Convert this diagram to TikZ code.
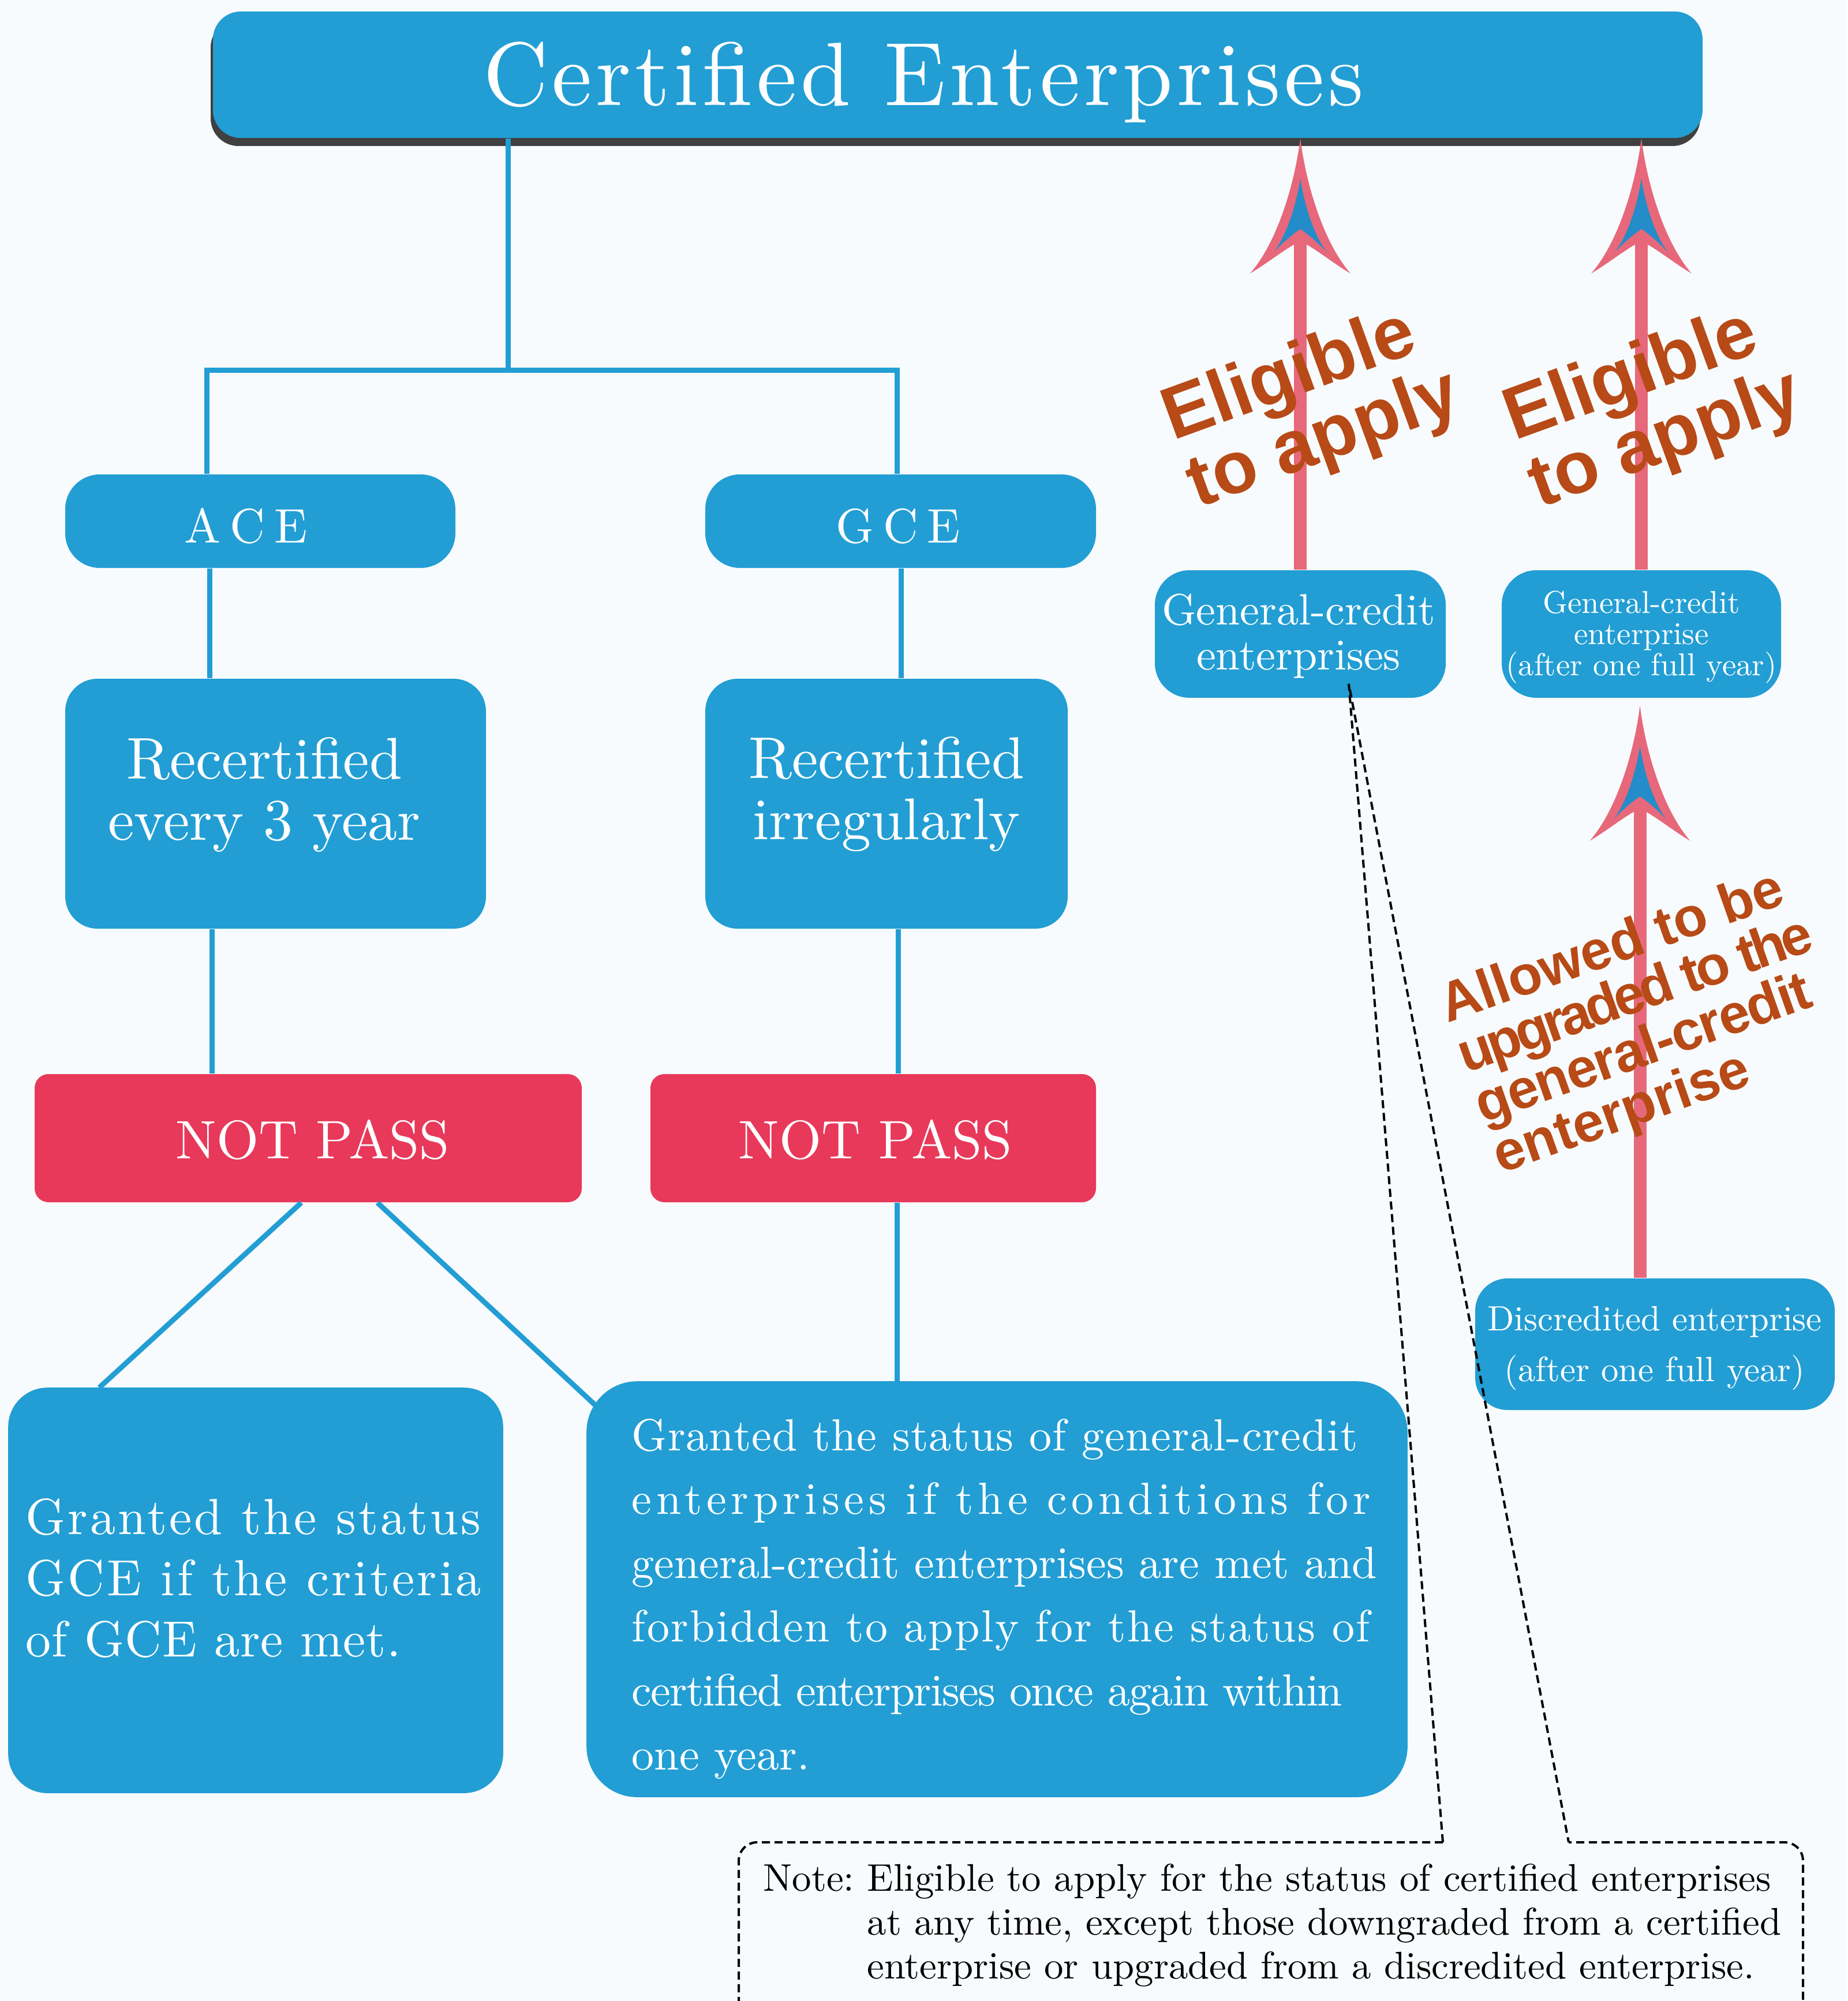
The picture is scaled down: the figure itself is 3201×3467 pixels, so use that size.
\documentclass[tikz,border=0pt]{standalone}
\usepackage{fontspec}
\setmainfont{lmroman10-regular.otf}[BoldFont=lmroman10-bold.otf,ItalicFont=lmroman10-italic.otf]
\usetikzlibrary{calc,shadows}
\newfontfamily\lbsans{Liberation Sans}
\definecolor{boxblue}{RGB}{34,158,212}
\definecolor{npred}{RGB}{232,57,90}
\definecolor{arrowpink}{RGB}{231,104,122}
\definecolor{headblue}{RGB}{36,140,200}
\definecolor{orangetxt}{RGB}{183,74,22}
\definecolor{bgc}{RGB}{248,251,253}
\definecolor{shadowgray}{RGB}{64,64,64}
\newcommand\lsp[2]{{\addfontfeature{LetterSpace=#1}#2}}
\frenchspacing
\tikzset{
  bluebox/.style={fill=boxblue, inner sep=0pt},
  redbox/.style={fill=npred, inner sep=0pt, rounded corners=6pt},
  conn/.style={draw=boxblue, line width=2.25pt},
  wtext/.style={text=white, inner sep=0pt},
  pinkshaft/.style={draw=arrowpink, line width=5.5pt},
  orangelbl/.style={text=orangetxt, inner sep=0pt},
  notedash/.style={draw=black, line width=1pt, dash pattern=on 3.5pt off 2pt},
  pinkhead/.pic={
    \fill[arrowpink] (0,0) .. controls (-10,80) and (-40,180) .. (-87,234)
      .. controls (-55,215) and (-25,190) .. (0,178)
      .. controls (25,190) and (55,215) .. (87,234)
      .. controls (40,180) and (10,80) .. (0,0) -- cycle;
    \fill[headblue] (0,70) .. controls (-8,120) and (-25,170) .. (-46,197)
      .. controls (-30,180) and (-12,165) .. (0,157)
      .. controls (12,165) and (30,180) .. (46,197)
      .. controls (25,170) and (8,120) .. (0,70) -- cycle;
  }
}
\begin{document}
\begin{tikzpicture}[x=0.25pt,y=-0.25pt]
\useasboundingbox (0,0) rectangle (3201,3467);
\clip (0,0) rectangle (3201,3467);
\fill[bgc] (0,0) rectangle (3201,3467);

% ---- title ----
\node[bluebox, rounded corners=12pt, minimum width=645.25pt, minimum height=54.75pt,
      drop shadow={shadow xshift=-1pt,shadow yshift=-3.5pt,fill=shadowgray,opacity=1}] (title) at (1659.5,129.5) {};

% ---- helper coordinates ----
\coordinate (j1) at (880,641);
\coordinate (jl) at (358,641);
\coordinate (jr) at (1554,641);
\coordinate (xa) at (363,0);
\coordinate (xb) at (1561,0);
\coordinate (xc) at (367,0);
\coordinate (xd) at (1556,0);
\coordinate (xe) at (1554,0);

% ---- boxes ----
\node[bluebox, rounded corners=15pt, minimum width=169pt, minimum height=40.5pt] (ace) at (451,903) {};
\node[bluebox, rounded corners=15pt, minimum width=169.25pt, minimum height=40.5pt] (gce) at (1560.5,903) {};
\node[bluebox, rounded corners=14pt, minimum width=182.25pt, minimum height=108.25pt] (rec1) at (477.5,1392.5) {};
\node[bluebox, rounded corners=14pt, minimum width=157pt, minimum height=108.25pt] (rec2) at (1536,1392.5) {};
\node[redbox, minimum width=237pt, minimum height=55.5pt] (np1) at (534,1972) {};
\node[redbox, minimum width=193pt, minimum height=55.5pt] (np2) at (1513,1972) {};

% ---- connectors ----
\draw[conn] (title.south -| j1) -- (j1);
\draw[conn] (ace.north -| jl) -- (jl) -- (jr) -- (gce.north -| jr);
\draw[conn] (ace.south -| xa) -- (rec1.north -| xa);
\draw[conn] (gce.south -| xb) -- (rec2.north -| xb);
\draw[conn] (rec1.south -| xc) -- (np1.north -| xc);
\draw[conn] (rec2.south -| xd) -- (np2.north -| xd);

\node[bluebox, rounded corners=17pt, minimum width=214pt, minimum height=175.25pt] (bot1) at (443,2755.5) {};
\node[bluebox, rounded corners=22pt, minimum width=355.25pt, minimum height=179.75pt] (bot2) at (1727.5,2753.5) {};
\draw[conn] ($(np1.south)+(-12,0)$) -- ($(bot1.north)+(-271,0)$);
\draw[conn] ($(np1.south)+(120,0)$) -- ($(bot2.north west)+(18,44)$);
\draw[conn] (np2.south -| xe) -- (bot2.north -| xe);
% boxes again over the connector ends
\fill[boxblue, rounded corners=17pt] (bot1.north west) rectangle (bot1.south east);
\fill[boxblue, rounded corners=22pt] (bot2.north west) rectangle (bot2.south east);

\node[bluebox, rounded corners=15pt, minimum width=126pt, minimum height=55.25pt] (gce1) at (2253,1098.5) {};
\node[bluebox, rounded corners=15pt, minimum width=121pt, minimum height=55.25pt] (gce2) at (2844,1098.5) {};
\node[bluebox, rounded corners=14pt, minimum width=155.75pt, minimum height=57pt] (disc) at (2867.5,2329) {};

% ---- texts ----
\node[wtext, anchor=base, font={\fontsize{39}{44}\selectfont\addfontfeature{LetterSpace=4.3}}] (ttitle) at (1600,183) {Certified Enterprises};
\node[wtext, anchor=base, font={\fontsize{21}{25}\selectfont}] (tace) at (426,940) {A\kern4pt C\kern4pt E};
\node[wtext, anchor=base, font={\fontsize{21}{25}\selectfont}] (tgce) at (1556,940) {G\kern4pt C\kern4pt E};
\node[wtext, align=center, font={\fontsize{25.5}{26.5}\selectfont}] (trec1) at (458,1376.5) {Recertified\\every 3 year};
\node[wtext, align=center, font={\fontsize{25.5}{26.5}\selectfont}] (trec2) at (1536,1376.5) {Recertified\\irregularly};
\node[wtext, font={\fontsize{23.5}{28}\selectfont}] (tnp1) at (542,1975) {NOT PASS};
\node[wtext, font={\fontsize{23.5}{28}\selectfont}] (tnp2) at (1517,1975) {NOT PASS};
\node[wtext, anchor=west, align=left, font={\fontsize{22}{26.5}\selectfont}] (tbot1) at (44,2734.5)
  {\lsp{4.6}{Granted the status}\\\lsp{4.6}{GCE if the criteria}\\\lsp{1}{of GCE are met.}};
\node[wtext, anchor=west, align=left, font={\fontsize{19.5}{27.65}\selectfont}] (tbot2) at (1094,2770)
  {\lsp{1.4}{Granted the status of general-credit}\\
   \lsp{10}{enterprises if the conditions for}\\
   general-credit enterprises are met and\\
   \lsp{3.2}{forbidden to apply for the status of}\\
   \lsp{-2.3}{certified enterprises once again within}\\
   one year.};
\node[wtext, align=center, font={\fontsize{19}{19.3}\selectfont}] (tgce1) at (2250,1102) {General-credit\\enterprises};
\node[wtext, align=center, font={\fontsize{13.7}{13.5}\selectfont}] (tgce2) at (2844,1104) {General-credit\\enterprise\\(after one full year)};
\node[wtext, align=center, font={\fontsize{15.2}{22}\selectfont}] (tdisc) at (2867,2336) {Discredited enterprise\\(after one full year)};

% ---- pink arrows ----
\draw[pinkshaft] (gce1.north) -- ($(gce1.north |- title.south)+(0,150)$);
\pic at (gce1.north |- title.south) {pinkhead};
\draw[pinkshaft] (gce2.north) -- ($(gce2.north |- title.south)+(0,150)$);
\pic at (gce2.north |- title.south) {pinkhead};
\draw[pinkshaft] ($(disc.north)+(-26,0)$) -- ($(disc.north |- gce2.south)+(-26,163)$);
\pic at ($(disc.north |- gce2.south)+(-26,13)$) {pinkhead};

% ---- orange labels (over the shafts) ----
\node[orangelbl, rotate=20, align=left, font={\lbsans\bfseries\fontsize{32}{31}\selectfont}] (elig1) at (2273,707) {Eligible\\to apply};
\node[orangelbl, rotate=20, align=left, font={\lbsans\bfseries\fontsize{32}{31}\selectfont}] (elig2) at (2865,707) {Eligible\\to apply};
\node[orangelbl, rotate=19.5, align=left, font={\lbsans\bfseries\fontsize{24}{23}\selectfont}] (allow) at (2850,1772)
  {Allowed to be\\\lsp{-7}{upgraded to the}\\\lsp{-2}{general-credit}\\enterprise};

% ---- note callout ----
\coordinate (cs) at ($(gce1.south)+(84,-25)$);
\draw[notedash] (2500,3192) -- (cs) -- (2718,3192);
\draw[notedash, rounded corners=8pt] (2500,3192) -- (1280,3192) -- (1280,3500) -- (3124,3500) -- (3124,3192) -- (2718,3192);
\node[anchor=west, align=left, inner sep=0pt, font={\fontsize{16.7}{19}\selectfont}] (note) at (1322,3335.5)
  {Note: Eligible to apply for the status of certified enterprises\\
   \phantom{Note: }at any time, except those downgraded from a certified\\
   \phantom{Note: }enterprise or upgraded from a discredited enterprise.};
\end{tikzpicture}
\end{document}
